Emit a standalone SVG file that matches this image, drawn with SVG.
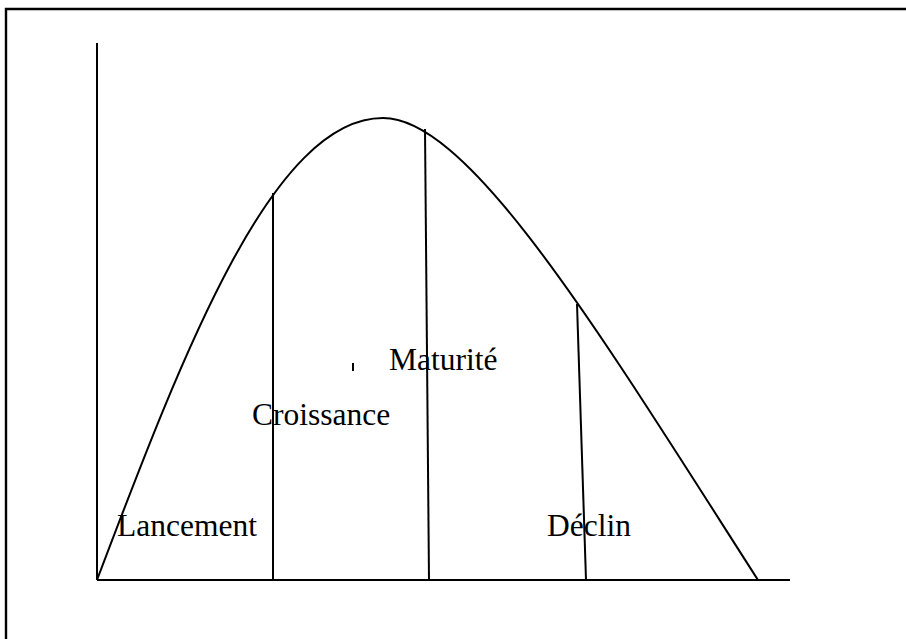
<svg xmlns="http://www.w3.org/2000/svg" width="906" height="639" viewBox="0 0 906 639">
<style>
.ln{fill:none;stroke:#000;stroke-width:2;stroke-linecap:butt}
text{font-family:'Liberation Serif','Times New Roman',Times,serif;font-size:31.5px;fill:#000}
</style>
<rect width="906" height="639" fill="#fff"/>
<path d="M6,639 V9 H906" fill="none" stroke="#000" stroke-width="2.4"/>
<g id="axes">
<line class="ln" x1="97" y1="43" x2="97" y2="580"/>
<line class="ln" x1="97" y1="580" x2="790" y2="580"/>
</g>
<g id="curve">
<path class="ln" d="M97,580 C184,350 273,118 383,118 C470,118 600,333.5 758,580"/>
</g>
<g id="connectors">
<line class="ln" x1="273" y1="193" x2="273" y2="580"/>
<line class="ln" x1="425" y1="129" x2="429" y2="580"/>
<line class="ln" x1="577" y1="304" x2="586" y2="580"/>
<line class="ln" x1="353" y1="363" x2="353" y2="371"/>
</g>
<g id="lancement"><text x="117" y="536" font-family="Liberation Serif, serif">Lancement</text></g>
<g id="croissance"><text x="252" y="425" font-family="Liberation Serif, serif">Croissance</text></g>
<g id="maturite"><text x="389" y="370" font-family="Liberation Serif, serif">Maturité</text></g>
<g id="declin"><text x="547" y="536" font-family="Liberation Serif, serif">Déclin</text></g>
</svg>
